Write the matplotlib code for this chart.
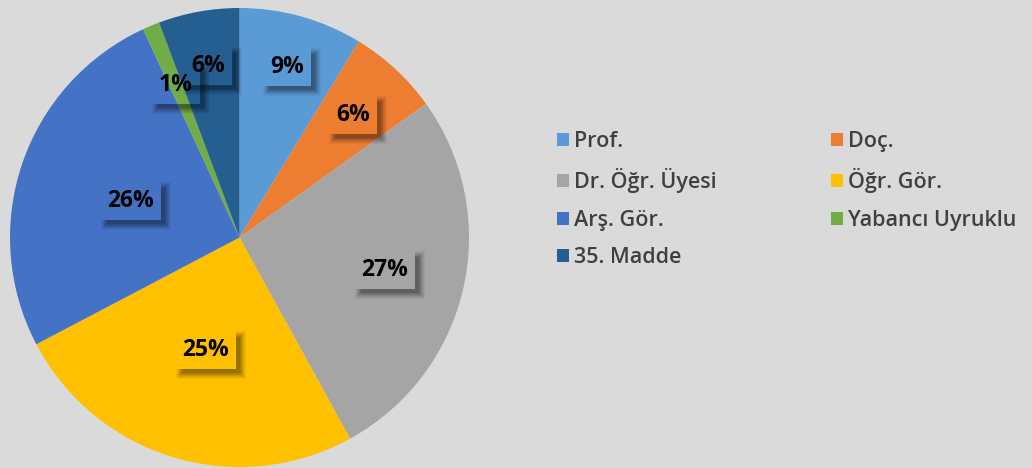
import matplotlib
matplotlib.use("Agg")
import matplotlib.pyplot as plt
from matplotlib.patches import Polygon
import numpy as np

labels = ["Prof.", "Doç.", "Dr. Öğr. Üyesi", "Öğr. Gör.", "Arş. Gör.", "Yabancı Uyruklu", "35. Madde"]
values = [8.7, 6.4, 26.9, 25.3, 25.8, 1.2, 5.7]
colors = ["#5B9BD5", "#ED7D31", "#A5A5A5", "#FFC000", "#4472C4", "#70AD47", "#255E91"]
# how far from the centre each percentage label sits (fraction of radius)
label_r = [0.77, 0.73, 0.65, 0.51, 0.50, 0.72, 0.76]

bg = "#dadada"
plt.rcParams['font.family'] = ['Open Sans', 'DejaVu Sans']

fig = plt.figure(figsize=(10.32, 4.68), dpi=100, facecolor=bg)
ax = fig.add_axes([10/1032, 1/468, 459/1032, 459/468])
ax.set_facecolor(bg)

wedges, _ = ax.pie(values, colors=colors, startangle=90, counterclock=False,
                   radius=1, wedgeprops=dict(linewidth=0))
ax.set_xlim(-1, 1)
ax.set_ylim(-1, 1)
ax.set_aspect("equal")
ax.axis("off")

total = sum(values)
texts = []
for w, v, r in zip(wedges, values, label_r):
    mid = np.deg2rad((w.theta1 + w.theta2) / 2)
    x, y = r * np.cos(mid), r * np.sin(mid)
    t = ax.text(x, y, f"{round(v / total * 100)}%", ha="center", va="center",
                fontsize=16.5, fontweight="bold", color="black", zorder=5)
    texts.append(t)

order = [0, 2, 4, 6, 1, 3, 5]
fig.legend([wedges[i] for i in order], [labels[i] for i in order],
           loc="upper left", bbox_to_anchor=(557/1032, 1 - 131/468),
           ncol=2, frameon=False, prop=dict(size=15.5, weight="semibold"),
           labelcolor="#404040",
           handlelength=0.55, handleheight=0.55, handletextpad=0.25,
           columnspacing=5.3, labelspacing=0.76, borderpad=0, borderaxespad=0)

# label boxes have no fill, only a soft shadow at the lower right edge
fig.canvas.draw()
for t in texts:
    bb = t.get_window_extent()
    cx, cy = round((bb.x0 + bb.x1) / 2), round((bb.y0 + bb.y1) / 2)
    hw, hh = round(bb.width / 2) + 7, 19
    bx0, bx1, by0, by1 = cx - hw, cx + hw, cy - hh, cy + hh
    for grow, a in [(6, 0.04), (5, 0.05), (4, 0.06), (3, 0.07), (2, 0.08), (1, 0.09), (0, 0.10)]:
        sx0, sx1 = bx0 + 6 - grow, bx1 + 4 + grow
        sy0, sy1 = by0 - 4 - grow, by1 - 6 + grow
        # L-shaped strip: shifted box minus the box itself
        pts = [(sx0, by0), (sx0, sy0), (sx1, sy0), (sx1, sy1), (bx1, sy1), (bx1, by0)]
        ax.add_artist(Polygon(pts, closed=True, fc=(0, 0, 0, a), ec="none",
                              transform=None, zorder=4))

fig.savefig("out.png", dpi=100, facecolor=bg)
